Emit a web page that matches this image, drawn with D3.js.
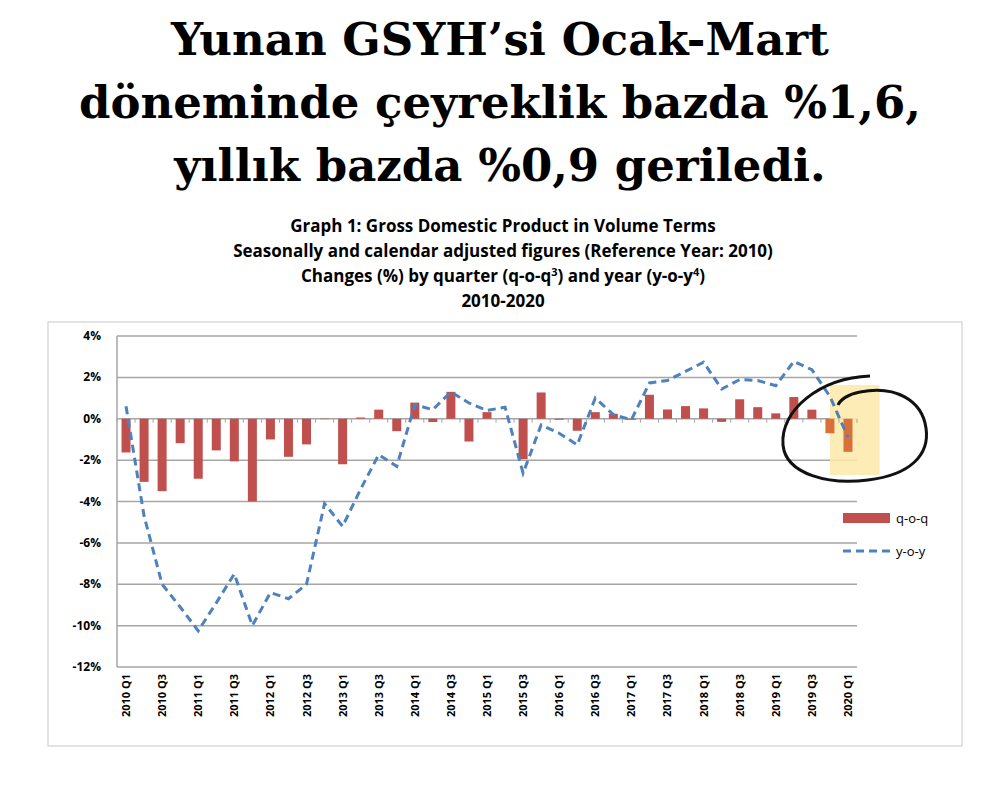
<!DOCTYPE html>
<html><head><meta charset="utf-8">
<script src="https://cdn.jsdelivr.net/npm/d3@7"></script>
<style>body{margin:0;background:#fff}</style>
</head><body>
<svg id="chart" width="1000" height="800"></svg>
<script>
// data
const quarters = [];
for (let y = 2010; y <= 2020; y++) for (let q = 1; q <= 4; q++) if (y < 2020 || q === 1) quarters.push(`${y} Q${q}`);
const qoq = [-1.63,-3.05,-3.5,-1.18,-2.9,-1.53,-2.06,-4.0,-1.0,-1.84,-1.24,-0.02,-2.2,0.06,0.44,-0.6,
  0.78,-0.16,1.3,-1.1,0.32,0.02,-1.95,1.27,-0.05,-0.58,0.32,0.24,-0.05,1.16,0.45,0.61,
  0.5,-0.15,0.94,0.56,0.26,1.05,0.44,-0.7,-1.6];
const yoy = [0.6,-4.7,-8.0,-9.1,-10.25,-8.9,-7.5,-10.0,-8.4,-8.7,-8.0,-4.1,-5.2,-3.4,-1.74,-2.3,
  0.68,0.44,1.3,0.76,0.4,0.56,-2.63,-0.3,-0.7,-1.26,1.0,0.2,-0.05,1.73,1.85,2.29,
  2.73,1.44,1.89,1.85,1.6,2.77,2.37,1.08,-0.9];
const yTicks = [4,2,0,-2,-4,-6,-8,-10,-12];
const titleLines = ["Yunan GSYH’si Ocak-Mart","döneminde çeyreklik bazda %1,6,","yıllık bazda %0,9 geriledi."];

const svg = d3.select("#chart");

svg.selectAll("text.title").data(titleLines).join("text")
  .attr("x", 500).attr("y", (d, i) => 55 + i * 63)
  .attr("text-anchor", "middle")
  .style("font", "bold 45px 'DejaVu Serif', serif").text(d => d);

const sub = ["Graph 1: Gross Domestic Product in Volume Terms",
  "Seasonally and calendar adjusted figures (Reference Year: 2010)", null, "2010-2020"];
const subG = svg.append("g").style("font", "bold 17px 'Open Sans', sans-serif").attr("text-anchor", "middle");
sub.forEach((s, i) => {
  const t = subG.append("text").attr("x", 503).attr("y", 232 + i * 25);
  if (s) t.text(s);
  else {
    t.append("tspan").text("Changes (%) by quarter (q-o-q");
    t.append("tspan").attr("dy", -6).style("font-size", "11px").text("3");
    t.append("tspan").attr("dy", 6).text(") and year (y-o-y");
    t.append("tspan").attr("dy", -6).style("font-size", "11px").text("4");
    t.append("tspan").attr("dy", 6).text(")");
  }
});

svg.append("rect").attr("x", 48).attr("y", 322).attr("width", 914).attr("height", 424)
  .attr("fill", "none").attr("stroke", "#c8c8c8");

const x = d3.scaleBand().domain(quarters).range([117, 857]);
const y = d3.scaleLinear().domain([-12, 4]).range([667, 336]);

// grid
svg.append("g").selectAll("line").data(yTicks).join("line")
  .attr("x1", 117).attr("x2", 857).attr("y1", d => y(d)).attr("y2", d => y(d))
  .attr("stroke", "#a6a6a6").attr("stroke-width", 1.5);
svg.append("line").attr("x1", 117).attr("x2", 117).attr("y1", y(4)).attr("y2", y(-12))
  .attr("stroke", "#a6a6a6").attr("stroke-width", 1.5);

svg.append("g").style("font", "bold 12px 'Open Sans', sans-serif")
  .selectAll("text").data(yTicks).join("text")
  .attr("x", 101).attr("y", d => y(d) + 4).attr("text-anchor", "end").text(d => d + "%");

// highlight
svg.append("rect").attr("x", x("2019 Q4") + x.step() * 0.5).attr("y", 385).attr("width", x.step() * 2.75).attr("height", 90)
  .attr("fill", "#fde9a8").attr("opacity", 0.85);

// x ticks on zero line
svg.append("g").selectAll("line").data(quarters.concat(["end"])).join("line")
  .attr("x1", (d, i) => 117 + i * x.step()).attr("x2", (d, i) => 117 + i * x.step())
  .attr("y1", y(0)).attr("y2", y(0) + 4).attr("stroke", "#a6a6a6");

svg.append("g").selectAll("rect").data(quarters).join("rect")
  .attr("x", d => x(d) + x.step() / 2 - 4.5).attr("width", 9)
  .attr("y", (d, i) => y(Math.max(0, qoq[i])))
  .attr("height", (d, i) => Math.abs(y(qoq[i]) - y(0)))
  .attr("fill", (d, i) => i >= 39 ? "#d9703a" : "#c0504d");

const line = d3.line().x((d, i) => x(quarters[i]) + x.step() / 2).y(d => y(d));
svg.append("path").datum(yoy).attr("d", line).attr("fill", "none")
  .attr("stroke", "#4f81bd").attr("stroke-width", 3).attr("stroke-dasharray", "8,5");

svg.append("g").style("font", "bold 11px 'Open Sans', sans-serif")
  .selectAll("text").data(quarters.filter((d, i) => i % 2 === 0)).join("text")
  .attr("transform", d => `translate(${x(d) + x.step() / 2 + 4},674) rotate(-90)`)
  .attr("text-anchor", "end").text(d => d);

// legend
svg.append("rect").attr("x", 843).attr("y", 513).attr("width", 47).attr("height", 10).attr("fill", "#c0504d");
svg.append("line").attr("x1", 843).attr("x2", 890).attr("y1", 551).attr("y2", 551)
  .attr("stroke", "#4f81bd").attr("stroke-width", 3).attr("stroke-dasharray", "8,5");
svg.append("g").style("font", "13px 'Open Sans', sans-serif")
  .selectAll("text").data(["q-o-q", "y-o-y"]).join("text")
  .attr("x", 896).attr("y", (d, i) => 523 + i * 33).text(d => d);

// hand-drawn circle
svg.append("path")
  .attr("d", "M870,376 C820,378 780,410 783,445 C786,475 830,485 868,480 C910,475 930,455 926,428 C922,400 895,385 860,392 C848,394 840,400 838,405")
  .attr("fill", "none").attr("stroke", "#111").attr("stroke-width", 3);
</script>
</body></html>
